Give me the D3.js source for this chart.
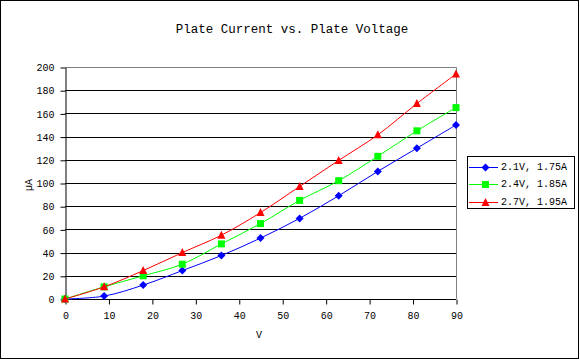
<!DOCTYPE html>
<html><head><meta charset="utf-8">
<script src="https://cdn.jsdelivr.net/npm/d3@7"></script>
<style>html,body{margin:0;padding:0;background:#fff;} svg{display:block;} text{font-family:"Liberation Mono","DejaVu Sans Mono",monospace;fill:#000;}</style>
</head><body>
<script>
const voltages = [0, 9, 18, 27, 36, 45, 54, 63, 72, 81, 90];
const seriesNames = ["2.1V, 1.75A", "2.4V, 1.85A", "2.7V, 1.95A"];
const series21 = [0, 2.5, 12, 24.5, 37.5, 52.5, 69.5, 89, 110, 130, 150];
const series24 = [0, 10.5, 20, 30, 47.5, 65, 85, 102, 123, 145, 165];
const series27 = [0, 10.5, 24.5, 40, 55, 74.5, 97, 119.5, 141.5, 168.5, 194];
const seriesColors = ["#0000ff", "#00ff00", "#ff0000"];
const xTicks = [0, 10, 20, 30, 40, 50, 60, 70, 80, 90];
const yTicks = [0, 20, 40, 60, 80, 100, 120, 140, 160, 180, 200];
const titleText = "Plate Current vs. Plate Voltage";
const xLabel = "V";
const yLabel = "\u00b5A";

const W = 580, H = 360;
const svg = d3.select("body").append("svg").attr("width", W).attr("height", H);
svg.append("rect").attr("x", 0.5).attr("y", 0.5).attr("width", 578).attr("height", 358)
  .attr("fill", "#fff").attr("stroke", "#000").attr("stroke-width", 1);

const x = d3.scaleLinear().domain([0, 90]).range([65, 456]);
const y = d3.scaleLinear().domain([0, 200]).range([299, 67]);

// gridlines
svg.append("g").selectAll("line").data(yTicks.filter(t => t > 0 && t < 200)).join("line")
  .attr("x1", x(0)).attr("x2", x(90))
  .attr("y1", d => Math.round(y(d)) + 0.5).attr("y2", d => Math.round(y(d)) + 0.5)
  .attr("stroke", "#000").attr("stroke-width", 1);
// top & right border (gray)
svg.append("path")
  .attr("d", `M${x(0)},${Math.round(y(200))+0.5}H${Math.round(x(90))+0.5}V${y(0)}`)
  .attr("fill", "none").attr("stroke", "#808080").attr("stroke-width", 1);

// axes
const xAxis = d3.axisBottom(x).tickValues(xTicks).tickSize(5).tickPadding(7).tickSizeOuter(0);
const gx = svg.append("g").attr("transform", `translate(0.5,${Math.round(y(0))+0.5})`).call(xAxis);
const yAxis = d3.axisLeft(y).tickValues(yTicks).tickSize(5).tickPadding(6).tickSizeOuter(0);
const gy = svg.append("g").attr("transform", `translate(${Math.round(x(0))+0.5},0.5)`).call(yAxis);
[gx, gy].forEach(g => {
  g.selectAll(".domain").attr("stroke", "#000");
  g.selectAll(".tick line").attr("stroke", "#000");
  g.selectAll("text").attr("font-family", "Liberation Mono, monospace").attr("font-size", 10).attr("fill", "#000");
});
gx.select(".domain").attr("d", `M${x(0)-0.5},0H${x(90)-0.5}`);

// titles
svg.append("text").attr("x", 292).attr("y", 30).attr("text-anchor", "middle")
  .attr("dominant-baseline", "middle").attr("font-size", 12.5).text(titleText);
svg.append("text").attr("x", 259).attr("y", 335).attr("text-anchor", "middle")
  .attr("dominant-baseline", "middle").attr("font-size", 10).text(xLabel);
svg.append("text").attr("transform", "translate(29,185) rotate(-90)").attr("text-anchor", "middle")
  .attr("dominant-baseline", "middle").attr("font-size", 10).text(yLabel);

const allSeries = [series21, series24, series27];
const line = d3.line().x(d => x(d[0])).y(d => y(d[1])).curve(d3.curveCatmullRom.alpha(0.5));

function marker(g, i, cx, cy) {
  const c = seriesColors[i];
  if (i === 0) {
    g.append("path").attr("d", `M${cx},${cy-4}L${cx+4},${cy}L${cx},${cy+4}L${cx-4},${cy}Z`).attr("fill", c);
  } else if (i === 1) {
    g.append("rect").attr("x", cx - 3.5).attr("y", cy - 3.5).attr("width", 7).attr("height", 7).attr("fill", c);
  } else {
    g.append("path").attr("d", `M${cx},${cy-4.5}L${cx+4},${cy+3.5}L${cx-4},${cy+3.5}Z`).attr("fill", c);
  }
}

allSeries.forEach((vals, i) => {
  const pts = voltages.map((v, k) => [v, vals[k]]);
  svg.append("path").datum(pts).attr("d", line).attr("fill", "none")
    .attr("stroke", seriesColors[i]).attr("stroke-width", 1);
  const g = svg.append("g");
  pts.forEach(p => marker(g, i, x(p[0]), y(p[1])));
});

// legend
const lg = svg.append("g");
lg.append("rect").attr("x", 467.5).attr("y", 156.5).attr("width", 107).attr("height", 52)
  .attr("fill", "#fff").attr("stroke", "#000").attr("stroke-width", 1);
seriesNames.forEach((name, i) => {
  const cy = 167 + i * 17.3;
  lg.append("line").attr("x1", 469).attr("x2", 498).attr("y1", Math.round(cy) + 0.5).attr("y2", Math.round(cy) + 0.5)
    .attr("stroke", seriesColors[i]).attr("stroke-width", 1);
  marker(lg, i, 485.5, Math.round(cy) + 0.5);
  lg.append("text").attr("x", 501).attr("y", cy + 0.5).attr("dominant-baseline", "middle")
    .attr("font-size", 10).text(name);
});
</script>
</body></html>
